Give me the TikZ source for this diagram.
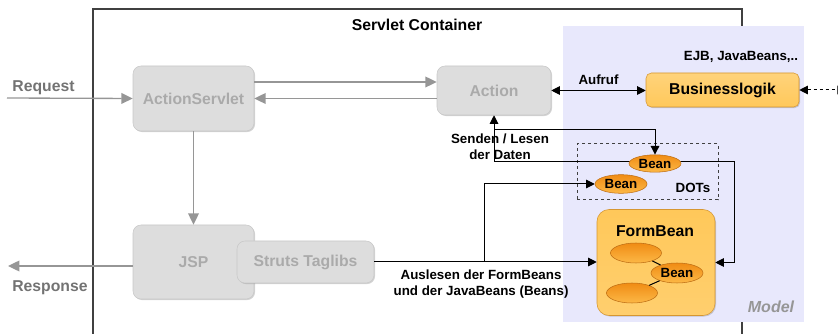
\documentclass[tikz,border=0pt]{standalone}
\usepackage{fontspec}
\setmainfont{Liberation Sans}
\usetikzlibrary{arrows.meta,shapes.geometric,shadows}

\definecolor{modelbg}{RGB}{232,232,252}
\definecolor{boxgray}{RGB}{221,221,221}
\definecolor{boxedge}{RGB}{200,200,200}
\definecolor{boxtext}{RGB}{170,170,170}
\definecolor{arrowgray}{RGB}{150,150,150}
\definecolor{labelgray}{RGB}{115,115,115}
\definecolor{bizfill}{RGB}{255,200,90}
\definecolor{bizedge}{RGB}{214,150,50}
\definecolor{beantop}{RGB}{240,140,20}
\definecolor{beanbot}{RGB}{252,184,70}
\definecolor{beanedge}{RGB}{190,110,20}

\begin{document}
\begin{tikzpicture}[x=0.75pt,y=-0.75pt,
        big/.style={font=\fontsize{11.8}{14}\selectfont\bfseries},
        small/.style={font=\fontsize{10}{12}\selectfont\bfseries},
        softshadow/.style={drop shadow={shadow xshift=0.8pt,shadow yshift=-0.8pt,opacity=0.35}},
        greybox/.style={big, rounded corners=6pt, fill=boxgray, draw=boxedge, text=boxtext, inner sep=0pt, softshadow},
        orangebox/.style={big, draw=bizedge, inner sep=0pt, softshadow},
        bean/.style={ellipse, small, draw=beanedge, top color=beantop, bottom color=beanbot, inner sep=0pt, minimum width=39pt},
        gline/.style={draw=arrowgray, line width=1pt, -{Triangle[length=8.5pt,width=8pt]}},
        bline/.style={line width=0.75pt, -{Triangle[length=6.5pt,width=6.5pt]}}]

                    \useasboundingbox (0,0) rectangle (838,334);

                    % servlet container frame
                    \draw[black!75, line width=0.8pt] (93,334) -- (93,9) -- (742,9) -- (742,334);
                    \node[big] (SC) at (417,25) {Servlet Container};

                    % model area
                    \node[fill=modelbg, minimum width=180.75pt, minimum height=222pt, inner sep=0pt] (Model) at (683.5,174) {};
                    \node[small] (EJB) at (741,57) {EJB, JavaBeans,..};
                    \node[font=\fontsize{12}{14}\selectfont\bfseries\itshape, text=arrowgray] (ModelLbl) at (771,307) {Model};

                    \node[draw=black!75, dashed, line width=0.75pt, dash pattern=on 2.5pt off 2pt, minimum width=105.75pt, minimum height=42pt] (DOT) at (647.5,172) {};
                    \node[small] (DOTLbl) at (693,188) {DOTs};

                    % struts parts
                    \node[greybox, minimum width=90.75pt, minimum height=48.75pt] (AS) at (193.5,98.5) {ActionServlet};
                    \node[greybox, minimum width=85.5pt, minimum height=36.75pt] (Act) at (494,90.5) {Action};
                    \node[greybox, minimum width=90.75pt, minimum height=55.5pt] (JSP) at (193.5,262) {JSP};
                    \node[greybox, minimum width=102.75pt, minimum height=31.5pt] (ST) at (305.5,262) {Struts Taglibs};

                    \node[orangebox, rounded corners=4pt, top color=bizfill!80!white, bottom color=bizfill, minimum width=114.75pt, minimum height=25.5pt] (BL) at (722.5,90) {Businesslogik};
                    \node[orangebox, rounded corners=9pt, top color=bizfill, bottom color=bizfill!88!white, minimum width=88.5pt, minimum height=79.5pt] (FB) at (656,262.5) {};
                    \node[big] (FBLbl) at (655,231) {FormBean};

                        \coordinate (req) at (7,98);
                        \coordinate (resp) at (8,266);
                        \coordinate (ext) at (846,90);
                        \coordinate (up) at (494,162);
                        \coordinate (fork) at (494,130);
                        \coordinate (turn) at (734,162);
                        \coordinate (split) at (484,262);

                    \draw[gline] (req) -- (AS.west) node [pos=0.29, above=-1.5pt, big, text=labelgray] (ReqLbl) {Request};
                    \draw[gline] (AS.east |- 0,82) -- (Act.west |- 0,82);
                    \draw[gline] (Act.west |- AS.east) -- (AS.east);
                    \draw[gline] (AS.south) -- (JSP.north);
                    \draw[gline] (JSP.west |- resp) -- (resp) node [pos=0.664, below=7pt, big, text=labelgray] (RespLbl) {Response};

                    \draw[bline, {Triangle[length=6.5pt,width=6.5pt]}-{Triangle[length=6.5pt,width=6.5pt]}] (Act.east) -- (BL.west |- Act.east) node [midway, above=1pt, small] (Call) {Aufruf};
                    \draw[bline, {Triangle[length=6.5pt,width=6.5pt]}-{Triangle[length=6.5pt,width=6.5pt]}, dash pattern=on 2.5pt off 2pt] (BL.east) -- (ext);

                    % senden / lesen
                    \draw[bline] (up) -- (Act.south);
                    \draw[bline] (up) -- (turn) |- (FB.east);
                    \node[small, align=center] (SL) at (500,147) {Senden / Lesen\\der Daten};

                    % beans
                    \node[bean, minimum height=13pt] (B1) at (655,163.5) {Bean};
                    \node[bean, minimum height=14pt] (B2) at (621,184) {Bean};
                    \node[bean, minimum width=38.25pt, minimum height=15pt] (FBa) at (636,253) {};
                    \node[bean, minimum width=38.25pt, minimum height=15pt] (FBb) at (632,293) {};
                    \node[bean, minimum height=15pt] (FBc) at (677,273) {Bean};

                    \draw[line width=0.75pt] (FBa) -- (FBc);
                    \draw[line width=0.75pt] (FBb) -- (FBc);

                    \draw[bline] (fork) -| (B1.north);
                    \draw[bline] (ST.east) -- (ST.east -| FB.west) node [pos=0.48, below=2pt, small, align=center] (Read) {Auslesen der FormBeans\\und der JavaBeans (Beans)};
                    \draw[bline] (split) |- (B2.west);

\end{tikzpicture}
\end{document}
